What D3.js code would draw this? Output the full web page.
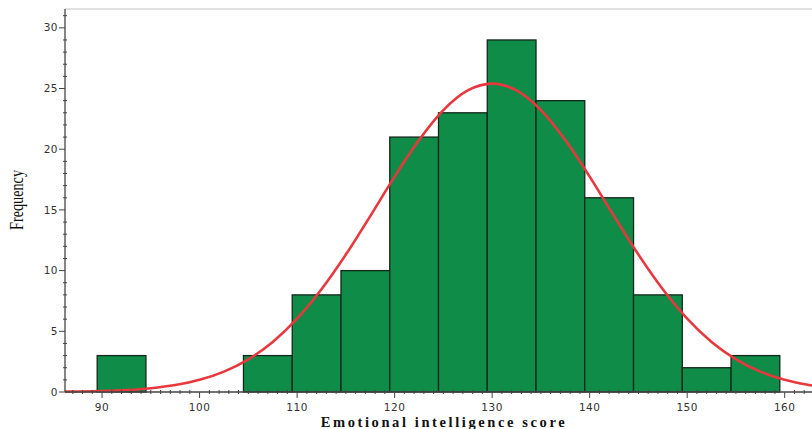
<!DOCTYPE html>
<html>
<head>
  <meta charset="utf-8">
  <title>Emotional intelligence histogram</title>
  <style>
    body { margin: 0; background: #fff; }
  </style>
</head>
<body>
  <script src="https://d3js.org/d3.v7.min.js"></script>
  <script>
    const width = 812;
    const height = 429;

    // bins (lower / upper edge) and counts
    const binStart = [89.5, 104.5, 109.5, 114.5, 119.5, 124.5, 129.5, 134.5, 139.5, 144.5, 149.5, 154.5];
    const binEnd = [94.5, 109.5, 114.5, 119.5, 124.5, 129.5, 134.5, 139.5, 144.5, 149.5, 154.5, 159.5];
    const counts = [3, 3, 8, 10, 21, 23, 29, 24, 16, 8, 2, 3];

    // normal curve
    const curveX = [85, 87.5, 90, 92.5, 95, 97.5, 100, 102.5, 105, 107.5, 110, 112.5, 115, 117.5, 120, 122.5, 125, 127.5,
      130, 132.5, 135, 137.5, 140, 142.5, 145, 147.5, 150, 152.5, 155, 157.5, 160, 162.5, 165];
    const curveY = [0.02, 0.04, 0.08, 0.16, 0.31, 0.57, 1.0, 1.68, 2.69, 4.12, 6.04, 8.46, 11.32, 14.49, 17.74, 20.75, 23.22, 24.84,
      25.4, 24.84, 23.22, 20.75, 17.74, 14.49, 11.32, 8.46, 6.04, 4.12, 2.69, 1.68, 1.0, 0.57, 0.31];

    const xMajor = [90, 100, 110, 120, 130, 140, 150, 160];
    const yMajor = [0, 5, 10, 15, 20, 25, 30];

    const margin = { left: 65, top: 9, right: 0, bottom: 37 };

    const svg = d3.select('body')
      .append('svg')
      .attr('width', width)
      .attr('height', height);

    const x = d3.scaleLinear()
      .domain([86.2, 162.8])
      .range([margin.left, width - margin.right]);

    const y = d3.scaleLinear()
      .domain([0, 31.55])
      .range([height - margin.bottom, margin.top]);

    const y0 = y(0);

    // top frame line
    svg.append('line')
      .attr('x1', margin.left).attr('x2', width)
      .attr('y1', margin.top).attr('y2', margin.top)
      .attr('stroke', '#d9d9d9')
      .attr('stroke-width', 1.5);

    // bars
    svg.append('g')
      .selectAll('rect')
      .data(counts)
      .join('rect')
      .attr('x', (d, i) => x(binStart[i]))
      .attr('y', (d) => y(d))
      .attr('width', (d, i) => x(binEnd[i]) - x(binStart[i]))
      .attr('height', (d) => y0 - y(d))
      .attr('fill', '#0f8c48')
      .attr('stroke', '#14281a')
      .attr('stroke-width', 1.3);

    // normal curve
    const line = d3.line()
      .x((d) => x(d[0]))
      .y((d) => y(d[1]))
      .curve(d3.curveMonotoneX);

    svg.append('defs').append('clipPath').attr('id', 'clip')
      .append('rect')
      .attr('x', margin.left).attr('y', 0)
      .attr('width', width - margin.left).attr('height', height);

    svg.append('path')
      .datum(curveX.map((v, i) => [v, curveY[i]]))
      .attr('d', line)
      .attr('clip-path', 'url(#clip)')
      .attr('fill', 'none')
      .attr('stroke', '#e8383d')
      .attr('stroke-width', 2.6);

    const axisColor = '#444';

    // y axis
    const yAxis = svg.append('g');
    yAxis.append('line')
      .attr('x1', margin.left).attr('x2', margin.left)
      .attr('y1', margin.top).attr('y2', y0)
      .attr('stroke', axisColor).attr('stroke-width', 1.3);

    yAxis.selectAll('.minor')
      .data(d3.range(1, 32).filter((d) => d % 5 !== 0))
      .join('line')
      .attr('x1', margin.left - 2).attr('x2', margin.left + 2)
      .attr('y1', (d) => y(d)).attr('y2', (d) => y(d))
      .attr('stroke', axisColor);

    yAxis.selectAll('.major')
      .data(yMajor)
      .join('line')
      .attr('x1', margin.left - 6).attr('x2', margin.left)
      .attr('y1', (d) => y(d)).attr('y2', (d) => y(d))
      .attr('stroke', axisColor);

    yAxis.selectAll('text')
      .data(yMajor)
      .join('text')
      .attr('x', margin.left - 7)
      .attr('y', (d) => y(d))
      .attr('dy', '0.35em')
      .attr('text-anchor', 'end')
      .attr('font-family', 'DejaVu Sans, sans-serif')
      .attr('font-size', 10.5)
      .attr('letter-spacing', 0.5)
      .attr('fill', '#333')
      .text((d) => d);

    // x axis
    const xAxis = svg.append('g');
    xAxis.append('line')
      .attr('x1', margin.left).attr('x2', width)
      .attr('y1', y0).attr('y2', y0)
      .attr('stroke', axisColor).attr('stroke-width', 1.3);

    xAxis.selectAll('.minor')
      .data(d3.range(87, 163).filter((d) => d % 10 !== 0))
      .join('line')
      .attr('x1', (d) => x(d)).attr('x2', (d) => x(d))
      .attr('y1', y0 - 2).attr('y2', y0 + 2)
      .attr('stroke', axisColor);

    xAxis.selectAll('.major')
      .data(xMajor)
      .join('line')
      .attr('x1', (d) => x(d)).attr('x2', (d) => x(d))
      .attr('y1', y0).attr('y2', y0 + 6)
      .attr('stroke', axisColor);

    xAxis.selectAll('text')
      .data(xMajor)
      .join('text')
      .attr('x', (d) => x(d))
      .attr('y', y0 + 19)
      .attr('text-anchor', 'middle')
      .attr('font-family', 'DejaVu Sans, sans-serif')
      .attr('font-size', 10.5)
      .attr('letter-spacing', 0.5)
      .attr('fill', '#333')
      .text((d) => d);

    // axis titles
    svg.append('text')
      .attr('x', 444)
      .attr('y', 427)
      .attr('text-anchor', 'middle')
      .attr('font-family', 'Liberation Serif, serif')
      .attr('font-weight', 'bold')
      .attr('font-size', 14.5)
      .attr('letter-spacing', 2.6)
      .attr('fill', '#111')
      .text('Emotional intelligence score');

    svg.append('text')
      .attr('transform', `translate(23,200) rotate(-90)`)
      .attr('text-anchor', 'middle')
      .attr('font-family', 'Liberation Serif, serif')
      .attr('font-size', 18)
      .attr('textLength', 60)
      .attr('lengthAdjust', 'spacingAndGlyphs')
      .attr('fill', '#111')
      .text('Frequency');
  </script>
</body>
</html>
